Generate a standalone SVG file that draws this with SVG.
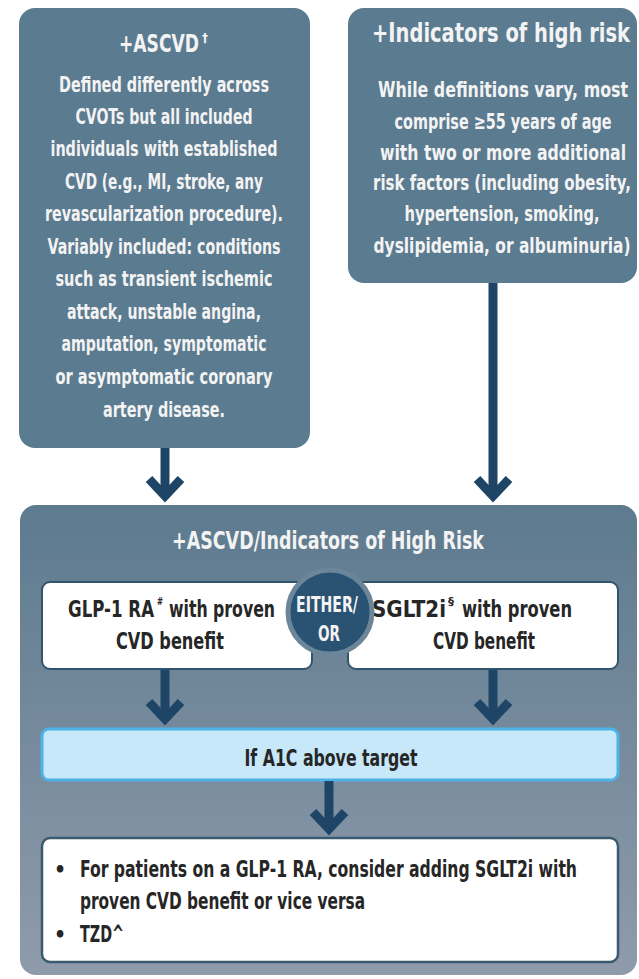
<svg xmlns="http://www.w3.org/2000/svg" width="639" height="979" viewBox="0 0 639 979">
<style>
text{font-family:'Liberation Sans Narrow','DejaVu Sans Condensed','Roboto Condensed','Liberation Sans',sans-serif;font-weight:bold;}
.lt{fill:#f3f3f3;text-anchor:middle;}
.b19{font-size:21px;}
.b20{font-size:21px;}
.dk{fill:#262626;}
.mid{text-anchor:middle;}
.topbox{fill:#5b7b90;}
.wbox{fill:#ffffff;stroke:#33546d;stroke-width:2;}
.conn{stroke:#1e4565;stroke-width:9;fill:none;marker-end:url(#chev);}
</style>
<defs>
<linearGradient id="bg" x1="0" y1="0" x2="0" y2="1">
<stop offset="0" stop-color="#5d7a8f"/>
<stop offset="1" stop-color="#8f9bab"/>
</linearGradient>
<marker id="chev" markerUnits="userSpaceOnUse" viewBox="-30 -25 40 50" refX="0" refY="0" markerWidth="40" markerHeight="50" orient="auto" overflow="visible">
<polyline points="-17,-16 0,0 -17,16" fill="none" stroke="#1e4565" stroke-width="9" stroke-linejoin="miter"/>
</marker>
</defs>

<g id="ascvd">
<rect class="topbox" x="19" y="8" width="291" height="440" rx="16"/>
<text class="lt" x="159" y="52" font-size="25" textLength="80" lengthAdjust="spacingAndGlyphs">+ASCVD</text>
<text x="202" y="42" font-size="12" fill="#f3f3f3" textLength="6" lengthAdjust="spacingAndGlyphs">†</text>
<text class="lt b19" x="164" y="92" textLength="210" lengthAdjust="spacingAndGlyphs">Defined differently across</text>
<text class="lt b19" x="164" y="124" textLength="177" lengthAdjust="spacingAndGlyphs">CVOTs but all included</text>
<text class="lt b19" x="164" y="156" textLength="227" lengthAdjust="spacingAndGlyphs">individuals with established</text>
<text class="lt b19" x="164" y="189" textLength="198" lengthAdjust="spacingAndGlyphs">CVD (e.g., MI, stroke, any</text>
<text class="lt b19" x="164" y="221" textLength="238" lengthAdjust="spacingAndGlyphs">revascularization procedure).</text>
<text class="lt b19" x="164" y="254" textLength="233" lengthAdjust="spacingAndGlyphs">Variably included: conditions</text>
<text class="lt b19" x="164" y="286" textLength="217" lengthAdjust="spacingAndGlyphs">such as transient ischemic</text>
<text class="lt b19" x="164" y="319" textLength="194" lengthAdjust="spacingAndGlyphs">attack, unstable angina,</text>
<text class="lt b19" x="164" y="351" textLength="205" lengthAdjust="spacingAndGlyphs">amputation, symptomatic</text>
<text class="lt b19" x="164" y="384" textLength="217" lengthAdjust="spacingAndGlyphs">or asymptomatic coronary</text>
<text class="lt b19" x="164" y="417" textLength="122" lengthAdjust="spacingAndGlyphs">artery disease.</text>
</g>

<g id="high-risk">
<rect class="topbox" x="348" y="8" width="289" height="275" rx="16"/>
<text class="lt" x="501" y="42" font-size="27" textLength="258" lengthAdjust="spacingAndGlyphs">+Indicators of high risk</text>
<text class="lt b20" x="503" y="97" textLength="250" lengthAdjust="spacingAndGlyphs">While definitions vary, most</text>
<text class="lt b20" x="503" y="129" textLength="217" lengthAdjust="spacingAndGlyphs">comprise ≥55 years of age</text>
<text class="lt b20" x="503" y="160" textLength="246" lengthAdjust="spacingAndGlyphs">with two or more additional</text>
<text class="lt b20" x="502" y="190" textLength="258" lengthAdjust="spacingAndGlyphs">risk factors (including obesity,</text>
<text class="lt b20" x="502" y="221" textLength="195" lengthAdjust="spacingAndGlyphs">hypertension, smoking,</text>
<text class="lt b20" x="502" y="253" textLength="257" lengthAdjust="spacingAndGlyphs">dyslipidemia, or albuminuria)</text>
</g>

<g id="ascvd-high-risk">
<rect x="20" y="505" width="617" height="470" rx="16" fill="url(#bg)"/>
<text class="lt" x="328" y="549" font-size="25" textLength="312" lengthAdjust="spacingAndGlyphs">+ASCVD/Indicators of High Risk</text>
</g>

<g id="glp1">
<rect class="wbox" x="42" y="582" width="270" height="87" rx="8"/>
<text class="dk" x="68" y="617" font-size="23" textLength="86" lengthAdjust="spacingAndGlyphs">GLP-1 RA</text>
<text class="dk" x="157" y="605" font-size="10" textLength="6" lengthAdjust="spacingAndGlyphs">#</text>
<text class="dk" x="169" y="617" font-size="23" textLength="106" lengthAdjust="spacingAndGlyphs">with proven</text>
<text class="dk mid" x="170" y="649" font-size="23" textLength="108" lengthAdjust="spacingAndGlyphs">CVD benefit</text>
</g>

<g id="sglt2">
<rect class="wbox" x="348" y="582" width="270" height="87" rx="8"/>
<text class="dk" x="372" y="617" font-size="23" textLength="74" lengthAdjust="spacingAndGlyphs">SGLT2i</text>
<text class="dk" x="448" y="605" font-size="10" textLength="6" lengthAdjust="spacingAndGlyphs">§</text>
<text class="dk" x="462" y="617" font-size="23" textLength="110" lengthAdjust="spacingAndGlyphs">with proven</text>
<text class="dk mid" x="484" y="649" font-size="23" textLength="102" lengthAdjust="spacingAndGlyphs">CVD benefit</text>
</g>

<g id="either-or">
<circle cx="330" cy="612" r="42" fill="#2a5272" stroke="#6b8599" stroke-width="5"/>
<text class="lt" x="327" y="612" font-size="22" textLength="62" lengthAdjust="spacingAndGlyphs">EITHER/</text>
<text class="lt" x="329" y="641" font-size="22" textLength="22" lengthAdjust="spacingAndGlyphs">OR</text>
</g>

<g id="a1c">
<rect x="42" y="729" width="576" height="51" rx="7" fill="#c7e8f9" stroke="#4cb2e8" stroke-width="3"/>
<text class="dk mid" x="331" y="766" font-size="23" textLength="173" lengthAdjust="spacingAndGlyphs">If A1C above target</text>
</g>

<g id="add-on">
<rect x="42" y="838" width="576" height="124" rx="8" fill="#ffffff" stroke="#3a5a72" stroke-width="2.5"/>
<text class="dk" x="54" y="877" font-size="21">•</text>
<text class="dk" x="80" y="877" font-size="23" textLength="497" lengthAdjust="spacingAndGlyphs">For patients on a GLP-1 RA, consider adding SGLT2i with</text>
<text class="dk" x="80" y="909" font-size="23" textLength="285" lengthAdjust="spacingAndGlyphs">proven CVD benefit or vice versa</text>
<text class="dk" x="54" y="942" font-size="21">•</text>
<text class="dk" x="80" y="942" font-size="23" textLength="44" lengthAdjust="spacingAndGlyphs">TZD^</text>
</g>

<g id="connectors">
<line class="conn" x1="165" y1="448" x2="165" y2="496"/>
<line class="conn" x1="493" y1="283" x2="493" y2="496"/>
<line class="conn" x1="165" y1="670" x2="165" y2="719"/>
<line class="conn" x1="493" y1="670" x2="493" y2="719"/>
<line class="conn" x1="329" y1="781" x2="329" y2="829"/>
</g>
</svg>
